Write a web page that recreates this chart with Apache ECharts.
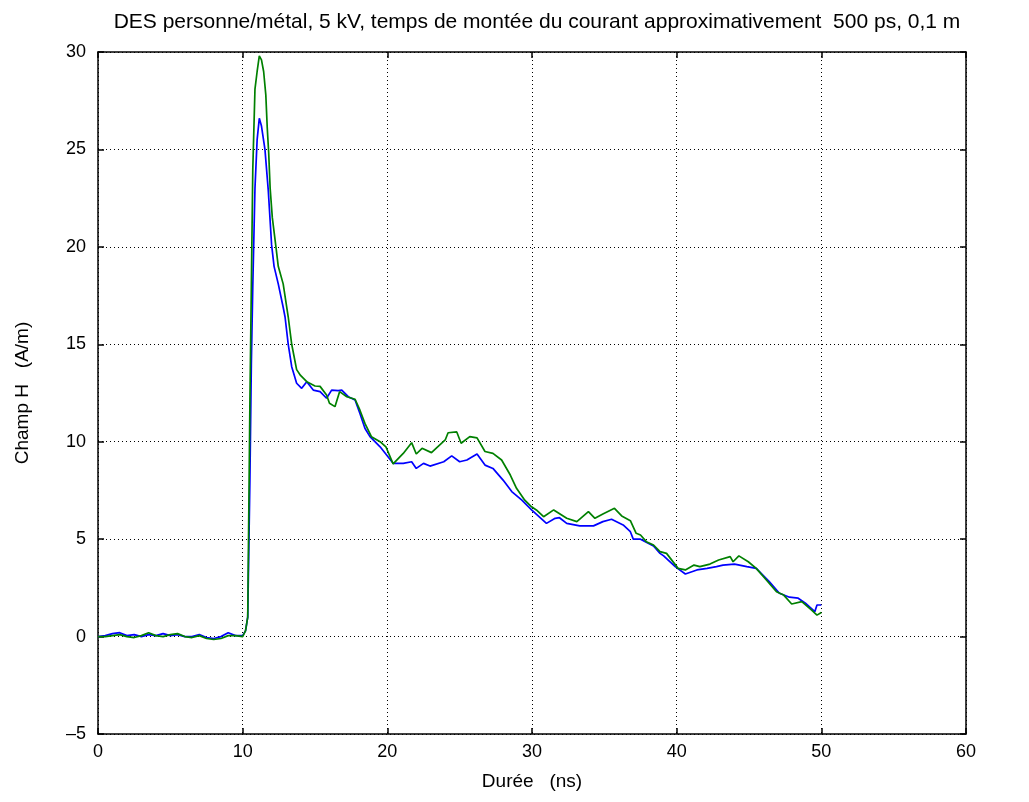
<!DOCTYPE html>
<html>
<head>
<meta charset="utf-8">
<script src="https://cdn.jsdelivr.net/npm/echarts@6/dist/echarts.min.js"></script>
<style>html,body{margin:0;padding:0;background:#fff;}#c{width:1029px;height:802px;}</style>
</head>
<body>
<div id="c"></div>
<script>
const titleText = 'DES personne/métal, 5 kV, temps de montée du courant approximativement  500 ps, 0,1 m';
const xAxisName = 'Durée   (ns)';
const yAxisName = 'Champ H   (A/m)';
const xTicks = [0, 10, 20, 30, 40, 50, 60];
const yTicks = [-5, 0, 5, 10, 15, 20, 25, 30];

const blueTime = [0,0.5,1,1.5,2,2.5,3,3.5,4,4.5,5,5.5,6,6.5,7,7.5,8,8.5,9,9.5,10,10.2,10.35,10.5,10.6,10.7,10.85,11,11.15,11.3,11.54,11.77,12,12.17,12.46,12.8,12.93,13.15,13.39,13.73,14.08,14.43,14.88,15.35,15.8,16.15,16.6,16.85,17.3,17.77,18.1,18.45,18.8,19.5,19.95,20.4,21.1,21.68,22,22.5,22.95,23.9,24.45,25,25.5,26.2,26.75,27.3,28,28.6,29.3,29.97,31,31.6,31.9,32.4,33.3,34.25,34.9,35.5,36.3,36.8,37,37.5,38.4,38.85,39.1,39.9,40.6,41.4,42.1,42.75,43.2,44,44.85,45.5,46.4,47.1,47.8,48.4,48.9,49.55,49.7,50];
const blueValues = [0,0.05,0.15,0.2,0.05,0.1,0,0.1,0.05,0.15,0.05,0.1,0,0,0.1,-0.05,-0.1,0,0.2,0.05,0.05,0.3,1.0,8,14,18,23,25.5,26.6,26.2,25.0,22.9,20.1,19.0,18.1,16.9,16.4,15.0,13.85,13.0,12.74,13.08,12.65,12.57,12.23,12.65,12.62,12.65,12.31,12.14,11.46,10.69,10.26,9.74,9.32,8.89,8.89,8.97,8.63,8.89,8.75,8.97,9.27,8.97,9.06,9.37,8.8,8.63,8.03,7.44,7.0,6.5,5.81,6.07,6.1,5.81,5.68,5.68,5.9,6.02,5.73,5.38,5.0,5.0,4.65,4.27,4.14,3.59,3.21,3.42,3.5,3.59,3.67,3.72,3.59,3.5,2.82,2.22,2.02,1.97,1.71,1.28,1.62,1.62];

const greenTime = [0,0.5,1,1.5,2,2.5,3,3.5,4,4.5,5,5.5,6,6.5,7,7.5,8,8.5,9,9.5,10,10.2,10.35,10.5,10.6,10.7,10.85,11,11.15,11.3,11.45,11.6,11.7,11.8,11.9,12.05,12.3,12.46,12.8,13.15,13.39,13.73,14.0,14.43,15,15.35,15.8,16,16.38,16.7,17.2,17.77,18.1,18.45,18.9,19.5,19.9,20.4,21.1,21.68,22,22.4,23.05,24,24.2,24.8,25.1,25.7,26.2,26.75,27.3,27.9,28.5,28.93,29.5,29.97,30.3,30.8,31.5,32.4,33.1,33.9,34.35,34.9,35.7,36.2,36.8,37.2,37.5,37.9,38.4,38.85,39.3,40.1,40.6,41.2,41.6,42.3,42.9,43.7,43.9,44.3,44.95,45.5,46.2,46.9,47.4,47.95,48.65,49.33,49.7,50];
const greenValues = [0,0,0.05,0.1,0,-0.05,0.05,0.2,0.05,0,0.1,0.15,0,-0.05,0.05,-0.1,-0.15,-0.1,0.05,0.05,0,0.3,1.0,12,18,24,28.1,29.0,29.8,29.6,29.0,27.8,26.1,24.8,23.0,21.5,20.0,19.0,18.1,16.4,15.0,13.7,13.4,13.08,12.86,12.84,12.4,11.97,11.8,12.57,12.31,12.18,11.63,10.94,10.26,10.0,9.74,8.86,9.4,9.95,9.37,9.66,9.44,10.09,10.46,10.5,9.92,10.26,10.2,9.5,9.4,9.06,8.29,7.61,7.0,6.66,6.5,6.15,6.5,6.07,5.9,6.41,6.07,6.29,6.58,6.19,5.95,5.3,5.21,4.87,4.7,4.36,4.27,3.5,3.42,3.67,3.59,3.72,3.93,4.1,3.84,4.14,3.84,3.5,2.9,2.3,2.13,1.67,1.79,1.36,1.1,1.23];

const zip = (t, v) => t.map((x, i) => [x, v[i]]);
const FONT = 'Liberation Sans, Arial, sans-serif';
const minusFmt = v => String(v).replace('-', '\u2013');

const chart = echarts.init(document.getElementById('c'), null, {renderer: 'canvas'});
const axisLine = {show: true, onZero: false, lineStyle: {color: '#000', width: 1.5}};
const splitLine = {show: true, lineStyle: {color: '#000', type: [1, 3], width: 1}};
const tick = {show: true, inside: true, length: 6, lineStyle: {color: '#000', width: 1.5}};
chart.setOption({
  animation: false,
  backgroundColor: '#fff',
  title: {
    text: titleText, left: 532, top: 7, textAlign: 'center',
    textStyle: {fontFamily: FONT, fontSize: 21, fontWeight: 'normal', color: '#000'}
  },
  grid: {left: 98, right: 63, top: 52, bottom: 68, containLabel: false},
  xAxis: [{
    type: 'value', min: xTicks[0], max: xTicks[xTicks.length - 1], interval: 10,
    position: 'bottom',
    name: xAxisName, nameLocation: 'middle', nameGap: 38,
    nameTextStyle: {fontFamily: FONT, fontSize: 19, color: '#000'},
    axisLine, axisTick: tick,
    axisLabel: {fontFamily: FONT, fontSize: 18, color: '#000', margin: 9, formatter: minusFmt},
    splitLine
  }, {
    type: 'value', min: xTicks[0], max: xTicks[xTicks.length - 1], interval: 10,
    position: 'top', axisLine, axisTick: tick,
    axisLabel: {show: false}, splitLine: {show: false}
  }],
  yAxis: [{
    type: 'value', min: yTicks[0], max: yTicks[yTicks.length - 1], interval: 5,
    position: 'left',
    name: yAxisName, nameLocation: 'middle', nameGap: 66, nameRotate: 90,
    nameTextStyle: {fontFamily: FONT, fontSize: 19, color: '#000'},
    axisLine, axisTick: tick,
    axisLabel: {fontFamily: FONT, fontSize: 18, color: '#000', margin: 12, formatter: minusFmt},
    splitLine
  }, {
    type: 'value', min: yTicks[0], max: yTicks[yTicks.length - 1], interval: 5,
    position: 'right', axisLine, axisTick: tick,
    axisLabel: {show: false}, splitLine: {show: false}
  }],
  series: [{
    type: 'line', name: 'blue', data: zip(blueTime, blueValues), showSymbol: false, symbol: 'none',
    lineStyle: {color: '#0000ff', width: 1.7}, z: 3
  }, {
    type: 'line', name: 'green', data: zip(greenTime, greenValues), showSymbol: false, symbol: 'none',
    lineStyle: {color: '#008000', width: 1.7}, z: 4
  }]
});
</script>
</body>
</html>
